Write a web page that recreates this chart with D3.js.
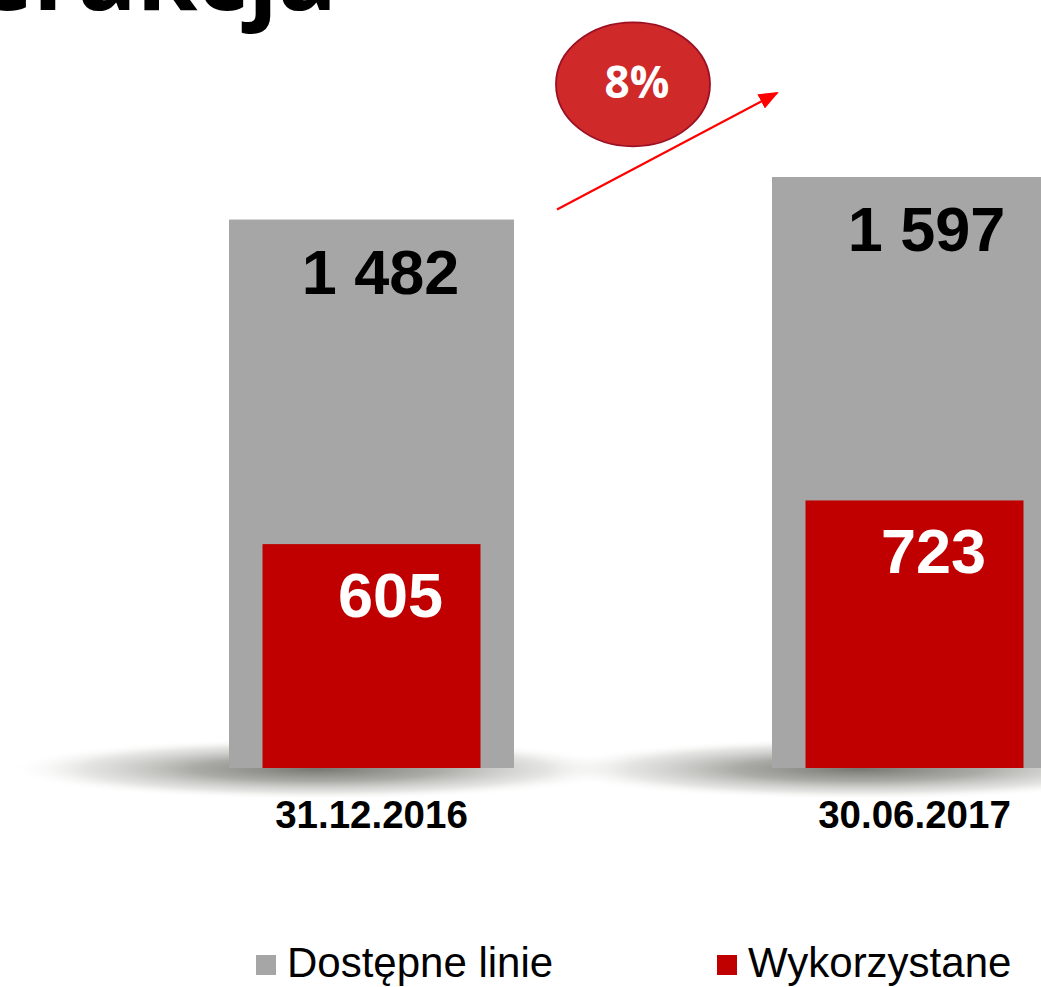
<!DOCTYPE html>
<meta charset="utf-8">
<style>
body { margin: 0; background: #fff; }
svg { display: block; font-family: "Liberation Sans", Arial, sans-serif; }
</style>
<body>
<script type="text/javascript" src="https://cdn.jsdelivr.net/npm/d3@7/dist/d3.min.js"></script>
<script type="text/javascript">

let categories = ['31.12.2016', '30.06.2017'];
let available = [1482, 1597];   // Dostępne linie
let used = [605, 723];          // Wykorzystane
let growthLabel = ['8%'];
let legendLabels = ['Dostępne linie', 'Wykorzystane'];
let titleText = 'Interakcja';

let width = 1041;
let height = 987;
let grey = '#a6a6a6';
let red = '#c00000';

let pl = d3.formatLocale({ decimal: ',', thousands: '\u00a0', grouping: [3], currency: ['', ''] });
let fmt = pl.format(',d');

let x = d3.scalePoint()
	.domain(categories)
	.range([371.5, 914.5]);

let y = d3.scaleLinear()
	.domain([0, 1597])
	.range([768, 177]);

let outerW = 285;
let innerW = 218;

let svg = d3.select('body').append('svg')
	.attr('width', width)
	.attr('height', height);

let defs = svg.append('defs');

let shade = defs.append('radialGradient').attr('id', 'shade');
shade.append('stop').attr('offset', '0%').attr('stop-color', '#777772').attr('stop-opacity', 1);
shade.append('stop').attr('offset', '40%').attr('stop-color', '#9c9c97').attr('stop-opacity', 0.85);
shade.append('stop').attr('offset', '75%').attr('stop-color', '#cfcfcc').attr('stop-opacity', 0.55);
shade.append('stop').attr('offset', '100%').attr('stop-color', '#ffffff').attr('stop-opacity', 0);

defs.append('marker')
	.attr('id', 'head')
	.attr('markerUnits', 'userSpaceOnUse')
	.attr('viewBox', '0 0 20 16')
	.attr('refX', 18)
	.attr('refY', 8)
	.attr('markerWidth', 20)
	.attr('markerHeight', 16)
	.attr('orient', 'auto')
	.append('path')
	.attr('d', 'M0,0 L20,8 L0,16 Z')
	.attr('fill', '#ff0000');

// title (cut off by the top edge)
svg.append('text')
	.attr('x', 337)
	.attr('y', 10)
	.attr('text-anchor', 'end')
	.style('font-family', '"Open Sans", sans-serif')
	.style('font-weight', 700)
	.style('font-size', '98px')
	.attr('fill', '#000')
	.text(titleText);

// floor shadows
svg.selectAll('.shadow')
	.data(categories)
	.enter().append('ellipse')
	.attr('class', 'shadow')
	.attr('cx', d => x(d) - 55)
	.attr('cy', y(0) + 1)
	.attr('rx', 310)
	.attr('ry', 31)
	.attr('fill', 'url(#shade)');

let groups = svg.selectAll('.bar')
	.data(categories)
	.enter().append('g')
	.attr('class', 'bar');

groups.append('rect')
	.attr('x', d => x(d) - outerW / 2)
	.attr('y', (d, i) => y(available[i]))
	.attr('width', outerW)
	.attr('height', (d, i) => y(0) - y(available[i]))
	.attr('fill', grey);

groups.append('rect')
	.attr('x', d => x(d) - innerW / 2)
	.attr('y', (d, i) => y(used[i]))
	.attr('width', innerW)
	.attr('height', (d, i) => y(0) - y(used[i]))
	.attr('fill', red);

groups.append('text')
	.attr('x', (d, i) => x(d) + 9 + i * 3)
	.attr('y', (d, i) => y(available[i]) + 74)
	.attr('text-anchor', 'middle')
	.style('font-weight', 700)
	.style('font-size', '63px')
	.attr('fill', '#000')
	.text((d, i) => fmt(available[i]));

groups.append('text')
	.attr('x', d => x(d) + 19)
	.attr('y', (d, i) => y(used[i]) + 73)
	.attr('text-anchor', 'middle')
	.style('font-weight', 700)
	.style('font-size', '63px')
	.attr('fill', '#fff')
	.text((d, i) => fmt(used[i]));

groups.append('text')
	.attr('x', d => x(d))
	.attr('y', 828)
	.attr('text-anchor', 'middle')
	.style('font-weight', 700)
	.style('font-size', '38.5px')
	.attr('fill', '#000')
	.text(d => d);

// growth arrow + bubble
let x0 = x(categories[0]) + outerW / 2 + 43;
let y0 = y(available[0]) - 10;
let x1 = x(categories[1]) - outerW / 2 + 5;
let y1 = y(available[1]) - 84;

svg.append('line')
	.attr('x1', x0).attr('y1', y0)
	.attr('x2', x1).attr('y2', y1)
	.attr('stroke', '#ff0000')
	.attr('stroke-width', 2.2)
	.attr('marker-end', 'url(#head)');

let bx = (x0 + x1) / 2 - 34;
let by = (y0 + y1) / 2 - 67;

svg.append('ellipse')
	.attr('cx', bx).attr('cy', by)
	.attr('rx', 77).attr('ry', 62)
	.attr('fill', '#cf292a')
	.attr('stroke', '#9c1024')
	.attr('stroke-width', 1.8);

svg.append('text')
	.attr('x', bx + 4)
	.attr('y', by + 14)
	.attr('text-anchor', 'middle')
	.style('font-family', '"Open Sans", sans-serif')
	.style('font-weight', 700)
	.style('font-size', '44px')
	.attr('fill', '#fff')
	.text(growthLabel[0]);

// legend
let legendX = [256, 717];
let legendColors = [grey, red];
let lg = svg.selectAll('.legend')
	.data(legendLabels)
	.enter().append('g')
	.attr('class', 'legend')
	.attr('transform', (d, i) => 'translate(' + legendX[i] + ',955)');

lg.append('rect')
	.attr('width', 20).attr('height', 20)
	.attr('fill', (d, i) => legendColors[i]);

lg.append('text')
	.attr('x', 31)
	.attr('y', 22)
	.style('font-size', '42px')
	.attr('fill', '#000')
	.text(d => d);

</script>
</body>
